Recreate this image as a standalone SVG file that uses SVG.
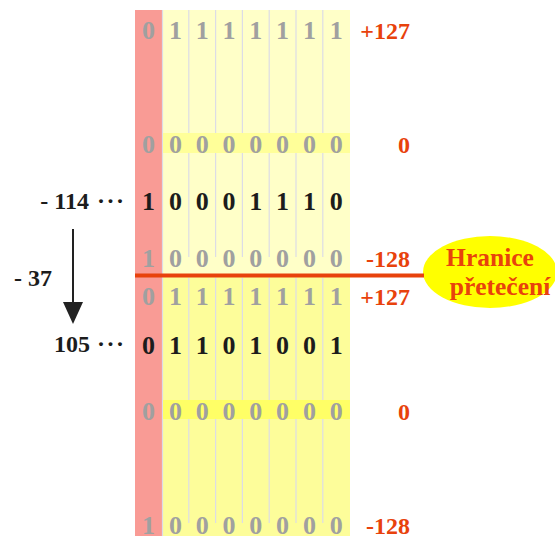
<svg xmlns="http://www.w3.org/2000/svg" width="555" height="536" viewBox="0 0 555 536">
  <style>
    .bit { font-family: "Liberation Serif", "Times New Roman", serif; font-weight: bold; font-size: 26px; text-anchor: middle; }
    .dim { fill: #a0a0a0; }
    .dark { fill: #1c1c1c; }
    .val { font-family: "Liberation Serif", "Times New Roman", serif; font-weight: bold; font-size: 24px; fill: #e8420c; text-anchor: end; }
    .lbl { font-family: "Liberation Serif", "Times New Roman", serif; font-weight: bold; font-size: 24px; fill: #1c1c1c; }
    .div { stroke: #dcdce6; stroke-width: 1.2; }
  </style>

  <rect width="555" height="536" fill="#ffffff"/>

  <!-- register background: sign column + value columns -->
  <g id="register">
    <rect x="162" y="10" width="188" height="266" fill="#ffffc8"/>
    <rect x="162" y="276" width="188" height="260" fill="#fdfd9a"/>
    <rect x="135" y="10" width="27" height="526" fill="#f99b95"/>
    <g class="div">
      <line x1="162.5" y1="10" x2="162.5" y2="536"/>
      <line x1="188.8" y1="10" x2="188.8" y2="257"/>
      <line x1="215.6" y1="10" x2="215.6" y2="257"/>
      <line x1="242.4" y1="10" x2="242.4" y2="257"/>
      <line x1="269.2" y1="10" x2="269.2" y2="257"/>
      <line x1="296" y1="10" x2="296" y2="257"/>
      <line x1="322.8" y1="10" x2="322.8" y2="257"/>
      <line x1="188.8" y1="278" x2="188.8" y2="523"/>
      <line x1="215.6" y1="278" x2="215.6" y2="523"/>
      <line x1="242.4" y1="278" x2="242.4" y2="523"/>
      <line x1="269.2" y1="278" x2="269.2" y2="523"/>
      <line x1="296" y1="278" x2="296" y2="523"/>
      <line x1="322.8" y1="278" x2="322.8" y2="523"/>
    </g>
    <!-- zero rows highlighted -->
    <rect x="163" y="133" width="187" height="20" fill="#ffff99"/>
    <rect x="163" y="400" width="187" height="19" fill="#ffff66"/>
  </g>

  <!-- bit rows -->
  <g id="row-top-127" class="bit dim">
    <text x="148.5" y="39">0</text><text x="175.4" y="39">1</text><text x="202.2" y="39">1</text><text x="229" y="39">1</text><text x="255.8" y="39">1</text><text x="282.6" y="39">1</text><text x="309.4" y="39">1</text><text x="336.2" y="39">1</text>
  </g>
  <g id="row-top-0" class="bit dim">
    <text x="148.5" y="153">0</text><text x="175.4" y="153">0</text><text x="202.2" y="153">0</text><text x="229" y="153">0</text><text x="255.8" y="153">0</text><text x="282.6" y="153">0</text><text x="309.4" y="153">0</text><text x="336.2" y="153">0</text>
  </g>
  <g id="row-minus-114" class="bit dark">
    <text x="148.5" y="210">1</text><text x="175.4" y="210">0</text><text x="202.2" y="210">0</text><text x="229" y="210">0</text><text x="255.8" y="210">1</text><text x="282.6" y="210">1</text><text x="309.4" y="210">1</text><text x="336.2" y="210">0</text>
  </g>
  <g id="row-top-minus-128" class="bit dim">
    <text x="148.5" y="267">1</text><text x="175.4" y="267">0</text><text x="202.2" y="267">0</text><text x="229" y="267">0</text><text x="255.8" y="267">0</text><text x="282.6" y="267">0</text><text x="309.4" y="267">0</text><text x="336.2" y="267">0</text>
  </g>
  <g id="row-bottom-127" class="bit dim">
    <text x="148.5" y="305">0</text><text x="175.4" y="305">1</text><text x="202.2" y="305">1</text><text x="229" y="305">1</text><text x="255.8" y="305">1</text><text x="282.6" y="305">1</text><text x="309.4" y="305">1</text><text x="336.2" y="305">1</text>
  </g>
  <g id="row-105" class="bit dark">
    <text x="148.5" y="354">0</text><text x="175.4" y="354">1</text><text x="202.2" y="354">1</text><text x="229" y="354">0</text><text x="255.8" y="354">1</text><text x="282.6" y="354">0</text><text x="309.4" y="354">0</text><text x="336.2" y="354">1</text>
  </g>
  <g id="row-bottom-0" class="bit dim">
    <text x="148.5" y="420">0</text><text x="175.4" y="420">0</text><text x="202.2" y="420">0</text><text x="229" y="420">0</text><text x="255.8" y="420">0</text><text x="282.6" y="420">0</text><text x="309.4" y="420">0</text><text x="336.2" y="420">0</text>
  </g>
  <g id="row-bottom-minus-128" class="bit dim">
    <text x="148.5" y="534">1</text><text x="175.4" y="534">0</text><text x="202.2" y="534">0</text><text x="229" y="534">0</text><text x="255.8" y="534">0</text><text x="282.6" y="534">0</text><text x="309.4" y="534">0</text><text x="336.2" y="534">0</text>
  </g>

  <!-- decimal values -->
  <g id="values" class="val">
    <text x="410" y="39">+127</text>
    <text x="410" y="153">0</text>
    <text x="410" y="267">-128</text>
    <text x="410" y="305">+127</text>
    <text x="410" y="420">0</text>
    <text x="410" y="534">-128</text>
  </g>

  <!-- overflow boundary callout -->
  <g id="overflow-label">
    <ellipse cx="490" cy="272" rx="67" ry="36" fill="#ffff00"/>
    <text x="490" y="266" text-anchor="middle" font-family="Liberation Serif, Times New Roman, serif" font-weight="bold" font-size="25.5" fill="#e8420c">Hranice</text>
    <text x="500" y="295" text-anchor="middle" font-family="Liberation Serif, Times New Roman, serif" font-weight="bold" font-size="25.5" fill="#e8420c">přetečení</text>
  </g>

  <!-- operand labels -->
  <g id="label-minus-114" class="lbl">
    <text x="89" y="209" text-anchor="end">- 114</text>
    <text x="97" y="209" letter-spacing="1.5">···</text>
  </g>
  <g id="label-minus-37" class="lbl">
    <text x="14" y="286">- 37</text>
  </g>
  <g id="label-105" class="lbl">
    <text x="90" y="352" text-anchor="end">105</text>
    <text x="97" y="352" letter-spacing="1.5">···</text>
  </g>

  <!-- connectors -->
  <g id="connectors">
    <line x1="135" y1="275.5" x2="424" y2="275.5" stroke="#e8420c" stroke-width="4"/>
    <line x1="73" y1="229" x2="73" y2="304" stroke="#222222" stroke-width="2"/>
    <polygon points="63,302 83,302 73,324" fill="#222222"/>
  </g>
</svg>
